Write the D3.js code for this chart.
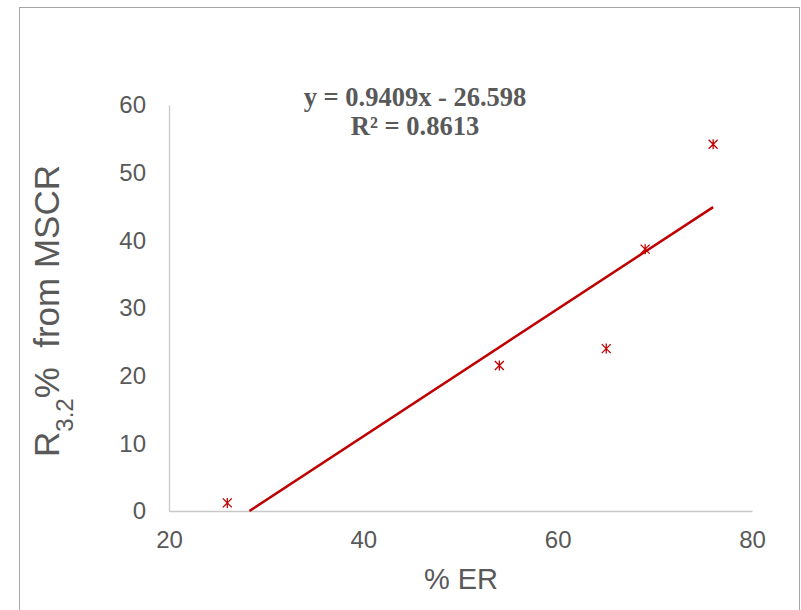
<!DOCTYPE html>
<html>
<head>
<meta charset="utf-8">
<script src="https://cdn.jsdelivr.net/npm/d3@7"></script>
<style>
html,body{margin:0;padding:0;background:#fff;}
svg{display:block;}
</style>
</head>
<body>
<svg id="chart" width="801" height="610"></svg>
<script>
// Data
const erValues = [26, 54, 65, 69, 76];
const r32Values = [1.2, 21.5, 24.0, 38.7, 54.2];
const xTicks = [20, 40, 60, 80];
const yTicks = [0, 10, 20, 30, 40, 50, 60];
const trendCoef = [0.9409, -26.598]; // slope, intercept
const trendRange = [28.27, 76];
const eqLines = ["y = 0.9409x - 26.598", "R\u00b2 = 0.8613"];

const svg = d3.select("#chart");
const textColor = "#595959";
const red = "#c00000";

// outer border
svg.append("rect").attr("x", 19.5).attr("y", 7.5).attr("width", 780).attr("height", 700)
  .attr("fill", "#fff").attr("stroke", "#a6a6a6").attr("stroke-width", 1);

const x = d3.scaleLinear().domain([20, 80]).range([169, 752]);
const y = d3.scaleLinear().domain([0, 60]).range([511, 105]);

// axes
const xAxis = svg.append("g").attr("transform", `translate(0,${y(0)})`)
  .call(d3.axisBottom(x).tickValues(xTicks).tickSize(0).tickPadding(20));
const yAxis = svg.append("g").attr("transform", `translate(${x(20)},0)`)
  .call(d3.axisLeft(y).tickValues(yTicks).tickSize(0).tickPadding(23));
[xAxis, yAxis].forEach(a => {
  a.select(".domain").attr("stroke", "#c8c8c8").attr("stroke-width", 1.3);
  a.selectAll("text").attr("fill", textColor).style("font-family", "Liberation Sans, Arial, sans-serif").style("font-size", "24px");
});
xAxis.selectAll("text").attr("dy", "0.71em");

// trendline
const line = d3.line().x(d => x(d)).y(d => y(trendCoef[0] * d + trendCoef[1]));
svg.append("path").datum(trendRange).attr("d", line)
  .attr("fill", "none").attr("stroke", red).attr("stroke-width", 2.5);

// star markers (X with vertical line)
const s = 4.5;
const markers = svg.append("g").selectAll("g").data(erValues.map((v, i) => [v, r32Values[i]]))
  .join("g").attr("transform", d => `translate(${x(d[0])},${y(d[1])})`);
markers.append("path")
  .attr("d", `M${-s},${-s}L${s},${s}M${-s},${s}L${s},${-s}M0,${-s - 0.5}L0,${s + 0.5}`)
  .attr("stroke", red).attr("stroke-width", 1.3).attr("fill", "none");

// equation
const eq = svg.append("text").attr("text-anchor", "middle")
  .attr("fill", textColor).style("font-family", "Liberation Serif, Times New Roman, serif")
  .style("font-weight", "bold").style("font-size", "26.5px");
eqLines.forEach((t, i) => eq.append("tspan").attr("x", 415).attr("y", 106 + i * 29).text(t));

// x title
svg.append("text").attr("x", 461).attr("y", 589).attr("text-anchor", "middle")
  .attr("fill", textColor).style("font-family", "Liberation Sans, Arial, sans-serif")
  .style("font-size", "29px").text("% ER");

// y title
const yt = svg.append("text").attr("transform", "translate(59,311) rotate(-90)")
  .attr("text-anchor", "middle").attr("fill", textColor)
  .style("font-family", "Liberation Sans, Arial, sans-serif").style("font-size", "35px");
yt.append("tspan").text("R");
yt.append("tspan").attr("baseline-shift", "sub").style("font-size", "24px").text("3.2");
yt.append("tspan").text("%\u00a0\u00a0from MSCR");
</script>
</body>
</html>
